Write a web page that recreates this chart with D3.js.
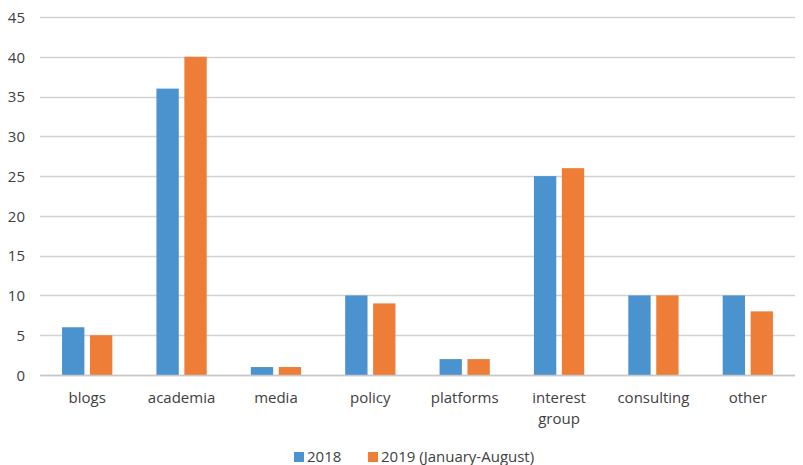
<!DOCTYPE html>
<html>
<head>
<meta charset="utf-8">
<script src="https://cdn.jsdelivr.net/npm/d3@7/dist/d3.min.js"></script>
<style>
  html, body { margin: 0; padding: 0; background: #ffffff; }
  svg text { font-family: "Open Sans", "Noto Sans", sans-serif; fill: #404040; }
</style>
</head>
<body>
<svg id="chart" width="803" height="465"></svg>
<script>
// Source types per year
const categories = ["blogs", "academia", "media", "policy", "platforms", "interest group", "consulting", "other"];
const series2018 = [6, 36, 1, 10, 2, 25, 10, 10];
const series2019 = [5, 40, 1, 9, 2, 26, 10, 8];
const seriesNames = ["2018", "2019 (January-August)"];
const seriesColors = ["#4b93cf", "#ee7e37"];
const yTicks = [0, 5, 10, 15, 20, 25, 30, 35, 40, 45];

const svg = d3.select("#chart");
const margin = { left: 40, right: 8, top: 17, bottom: 90 };
const width = 803, height = 465;
const plotBottom = 375;

const x = d3.scaleBand().domain(categories).range([margin.left, width - margin.right]).paddingInner(0).paddingOuter(0);
const inner = d3.scaleBand().domain(seriesNames).range([0, x.bandwidth()]).paddingInner(0.2).paddingOuter(0.79);
const y = d3.scaleLinear().domain([0, 45]).range([plotBottom, margin.top]);

// gridlines
svg.append("g")
  .selectAll("line")
  .data(yTicks)
  .join("line")
  .attr("x1", margin.left).attr("x2", width - margin.right)
  .attr("y1", d => Math.round(y(d)) + 0.5).attr("y2", d => Math.round(y(d)) + 0.5)
  .attr("stroke", "#d2d2d2").attr("stroke-width", 1.5);

// y axis labels
const yAxis = d3.axisLeft(y).tickValues(yTicks).tickSize(0).tickPadding(15);
const gy = svg.append("g").attr("transform", `translate(${margin.left},0)`).call(yAxis);
gy.select(".domain").remove();
gy.selectAll("text").style("font-size", "15px").attr("dy", "0.35em");

// bars
const rows = categories.map((c, i) => ({ cat: c, vals: [series2018[i], series2019[i]] }));
const groups = svg.append("g").selectAll("g")
  .data(rows).join("g")
  .attr("transform", d => `translate(${x(d.cat)},0)`);
groups.selectAll("rect")
  .data(d => d.vals.map((v, k) => ({ v, name: seriesNames[k], k })))
  .join("rect")
  .attr("x", d => inner(d.name))
  .attr("width", inner.bandwidth())
  .attr("y", d => y(d.v))
  .attr("height", d => y(0) - y(d.v))
  .attr("fill", d => seriesColors[d.k]);

// baseline
svg.append("line")
  .attr("x1", margin.left).attr("x2", width - margin.right)
  .attr("y1", plotBottom + 0.5).attr("y2", plotBottom + 0.5)
  .attr("stroke", "#c8c8c8").attr("stroke-width", 1.5);

// category labels (wrap on space for "interest group")
const xl = svg.append("g");
categories.forEach(c => {
  const t = xl.append("text")
    .attr("x", x(c) + x.bandwidth() / 2)
    .attr("y", 403)
    .attr("text-anchor", "middle")
    .style("font-size", "15px");
  const words = c === "interest group" ? c.split(" ") : [c];
  words.forEach((w, i) => {
    t.append("tspan").attr("x", x(c) + x.bandwidth() / 2).attr("dy", i === 0 ? 0 : "1.4em").text(w);
  });
});

// legend
const legend = svg.append("g").attr("transform", "translate(0,457)");
const legendItems = [
  { name: seriesNames[0], color: seriesColors[0], x: 294 },
  { name: seriesNames[1], color: seriesColors[1], x: 368 }
];
legendItems.forEach(it => {
  legend.append("rect").attr("x", it.x).attr("y", -5).attr("width", 10).attr("height", 10).attr("fill", it.color);
  legend.append("text").attr("x", it.x + 13).attr("y", 0).attr("dy", "0.35em")
    .style("font-size", "15px").text(it.name);
});
</script>
</body>
</html>
